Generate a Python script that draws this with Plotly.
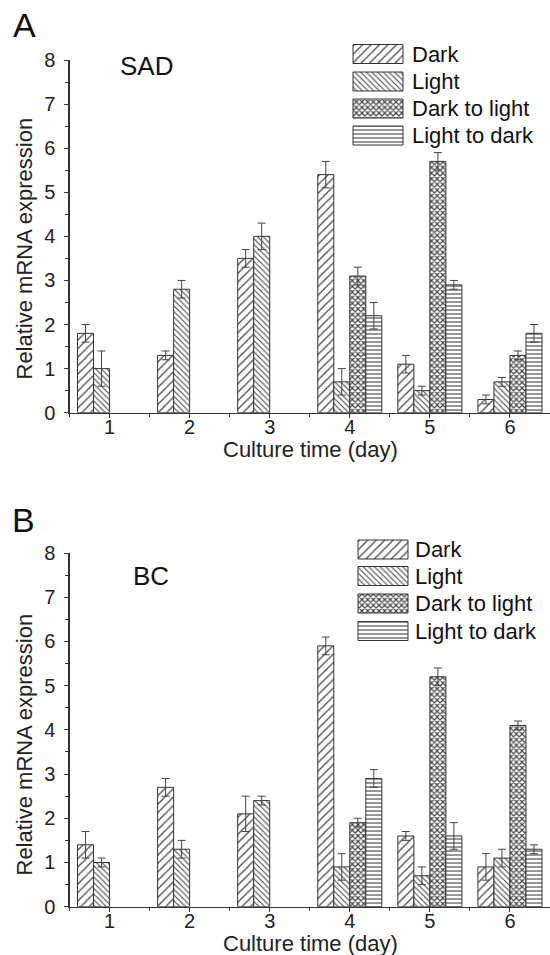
import plotly.graph_objects as go

# ---------------- data ----------------
days = [1, 2, 3, 4, 5, 6]
series_names = ["Dark", "Light", "Dark to light", "Light to dark"]
y_ticks = [0, 1, 2, 3, 4, 5, 6, 7, 8]

# Panel A: SAD
sad_dark = [1.8, 1.3, 3.5, 5.4, 1.1, 0.3]
sad_dark_err = [0.2, 0.1, 0.2, 0.3, 0.2, 0.1]
sad_light = [1.0, 2.8, 4.0, 0.7, 0.5, 0.7]
sad_light_err = [0.4, 0.2, 0.3, 0.3, 0.1, 0.1]
sad_d2l = [None, None, None, 3.1, 5.7, 1.3]
sad_d2l_err = [0, 0, 0, 0.2, 0.2, 0.1]
sad_l2d = [None, None, None, 2.2, 2.9, 1.8]
sad_l2d_err = [0, 0, 0, 0.3, 0.1, 0.2]

# Panel B: BC
bc_dark = [1.4, 2.7, 2.1, 5.9, 1.6, 0.9]
bc_dark_err = [0.3, 0.2, 0.4, 0.2, 0.1, 0.3]
bc_light = [1.0, 1.3, 2.4, 0.9, 0.7, 1.1]
bc_light_err = [0.1, 0.2, 0.1, 0.3, 0.2, 0.2]
bc_d2l = [None, None, None, 1.9, 5.2, 4.1]
bc_d2l_err = [0, 0, 0, 0.1, 0.2, 0.1]
bc_l2d = [None, None, None, 2.9, 1.6, 1.3]
bc_l2d_err = [0, 0, 0, 0.2, 0.3, 0.1]

panel_letters = ["A", "B"]
gene_labels = ["SAD", "BC"]
x_title = "Culture time (day)"
y_title = "Relative mRNA expression"

# ---------------- style ----------------
W, H = 550, 955
FONT = "Liberation Sans, Arial, sans-serif"
INK = "#222222"
LINE = "#333333"
patterns = [
    dict(shape="/", size=6, solidity=0.2),
    dict(shape="\\", size=4, solidity=0.26),
    dict(shape="x", size=4, solidity=0.5),
    dict(shape="-", size=4, solidity=0.28),
]

def marker_for(i):
    p = patterns[i]
    return dict(
        color="white",
        line=dict(color=LINE, width=1),
        pattern=dict(shape=p["shape"], size=p["size"], solidity=p["solidity"],
                     fgcolor="#444444", bgcolor="white", fillmode="replace"),
    )

panels = [
    dict(vals=[sad_dark, sad_light, sad_d2l, sad_l2d],
         errs=[sad_dark_err, sad_light_err, sad_d2l_err, sad_l2d_err],
         xa="x", ya="y"),
    dict(vals=[bc_dark, bc_light, bc_d2l, bc_l2d],
         errs=[bc_dark_err, bc_light_err, bc_d2l_err, bc_l2d_err],
         xa="x2", ya="y2"),
]

fig = go.Figure()
for p in panels:
    for i, name in enumerate(series_names):
        fig.add_trace(go.Bar(
            x=days, y=p["vals"][i], name=name, showlegend=False,
            xaxis=p["xa"], yaxis=p["ya"],
            marker=marker_for(i),
            error_y=dict(type="data", array=p["errs"][i], visible=True,
                         color="#444444", thickness=1, width=4),
        ))

# pixel helpers (figure px -> paper fraction)
def py(v):
    return 1 - v / H

x_dom = [69.5 / W, 1.0]
y_dom_A = [py(412.7), py(60)]
y_dom_B = [py(906.7), py(553)]

# legend swatches drawn on a pixel-mapped overlay axis
leg_left = [353, 358]
leg_text_x = [410, 413]
leg_rows = [[54, 81.5, 108.5, 135.5], [549.5, 576, 603.5, 631]]
sw_w, sw_h = 50, 19

for i, name in enumerate(series_names):
    fig.add_trace(go.Bar(
        orientation="h",
        y=[leg_rows[0][i], leg_rows[1][i]],
        x=[sw_w, sw_w],
        base=leg_left,
        width=sw_h, offset=-sw_h / 2,
        xaxis="x3", yaxis="y3", showlegend=False,
        marker=marker_for(i),
    ))

axis_common = dict(
    showgrid=False, zeroline=False, showline=True, linecolor=LINE, linewidth=1.2,
    ticks="outside", tickcolor=LINE, tickwidth=1, ticklen=4,
    tickfont=dict(family=FONT, size=20, color=INK), automargin=False,
)

def xaxis_cfg(anchor):
    return dict(axis_common, domain=x_dom, range=[0.5, 6.5], tickvals=days,
                anchor=anchor, ticklabelstandoff=-8,
                minor=dict(tick0=0.5, dtick=1, ticks="outside", ticklen=3,
                           tickcolor=LINE, tickwidth=1))

def yaxis_cfg(dom, anchor):
    return dict(axis_common, domain=dom, range=[0, 8], tickvals=y_ticks,
                anchor=anchor, ticklabelstandoff=5,
                minor=dict(tick0=0, dtick=0.5, ticks="outside", ticklen=3,
                           tickcolor=LINE, tickwidth=1))

annotations = []
def ann(text, x, y, size, **kw):
    d = dict(text=text, x=x, y=y, xref="x3", yref="y3", showarrow=False,
             font=dict(family=FONT, size=size, color="#111111"))
    d.update(kw)
    annotations.append(d)

# panel letters, gene labels, axis titles
ann(panel_letters[0], 24.5, 25, 34)
ann(panel_letters[1], 23.5, 519.5, 34)
ann(gene_labels[0], 146, 65.5, 26)
ann(gene_labels[1], 150.5, 575.5, 26)
ann(x_title, 310, 449, 22, font=dict(family=FONT, size=22, color=INK))
ann(x_title, 310, 943, 22, font=dict(family=FONT, size=22, color=INK))
ann(y_title, 23.5, 249, 22, textangle=-90, font=dict(family=FONT, size=22, color=INK))
ann(y_title, 23.5, 745, 22, textangle=-90, font=dict(family=FONT, size=22, color=INK))
for k in range(2):
    for i, name in enumerate(series_names):
        ann(name, leg_text_x[k], leg_rows[k][i], 22, xanchor="left",
            font=dict(family=FONT, size=22, color="#111111"))

fig.update_layout(
    width=W, height=H,
    margin=dict(l=0, r=0, t=0, b=0),
    paper_bgcolor="white", plot_bgcolor="rgba(0,0,0,0)",
    barmode="group", bargap=0.2, bargroupgap=0,
    showlegend=False,
    xaxis=xaxis_cfg("y"),
    yaxis=yaxis_cfg(y_dom_A, "x"),
    xaxis2=xaxis_cfg("y2"),
    yaxis2=yaxis_cfg(y_dom_B, "x2"),
    xaxis3=dict(domain=[0, 1], range=[0, W], visible=False, anchor="y3",
                fixedrange=True),
    yaxis3=dict(domain=[0, 1], range=[H, 0], visible=False, anchor="x3",
                fixedrange=True),
    annotations=annotations,
    font=dict(family=FONT, color=INK),
)

fig.write_html(
    "out.html",
    config={"displayModeBar": False, "staticPlot": True},
    post_script="document.body.style.margin='0';document.body.style.padding='0';",
)
